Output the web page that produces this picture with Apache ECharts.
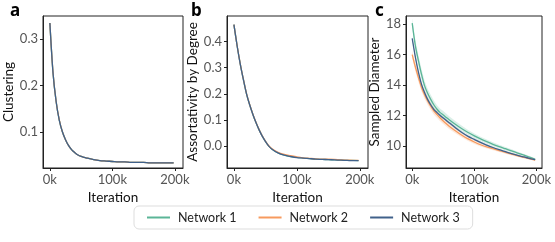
<!DOCTYPE html>
<html>
<head>
<meta charset="utf-8">
<script src="https://cdn.jsdelivr.net/npm/echarts@6/dist/echarts.min.js"></script>
<style>html,body{margin:0;padding:0;background:#fff}#c{width:555px;height:242px}</style>
</head>
<body>
<div id="c"></div>
<script>
// iteration (thousands)
const iters = [0,5,10,15,20,25,30,35,40,45,50,55,60,70,80,90,100,110,120,130,140,150,160,170,180,190,198];
const networks = ['Network 1','Network 2','Network 3'];
const xTicks = [0,100,200];

// panel a: clustering
const clu1 = [0.335,0.228,0.166,0.126,0.101,0.084,0.071,0.062,0.056,0.051,0.048,0.046,0.044,0.041,0.039,0.038,0.037,0.036,0.036,0.035,0.035,0.035,0.034,0.034,0.034,0.034,0.034];
const clu2 = [0.335,0.229,0.166,0.127,0.101,0.084,0.071,0.062,0.056,0.051,0.048,0.046,0.044,0.041,0.039,0.038,0.037,0.036,0.036,0.035,0.035,0.035,0.034,0.034,0.034,0.034,0.034];
const clu3 = [0.335,0.228,0.166,0.126,0.101,0.084,0.071,0.062,0.056,0.051,0.048,0.046,0.044,0.041,0.039,0.038,0.037,0.036,0.036,0.035,0.035,0.035,0.034,0.034,0.034,0.034,0.034];
const cluTicks = [0.1,0.2,0.3];

// panel b: assortativity by degree
const as1 = [0.465,0.385,0.315,0.255,0.200,0.158,0.122,0.090,0.062,0.038,0.018,0.001,-0.011,-0.026,-0.035,-0.040,-0.043,-0.046,-0.048,-0.050,-0.051,-0.052,-0.053,-0.054,-0.055,-0.055,-0.056];
const as2 = [0.465,0.386,0.316,0.256,0.201,0.159,0.123,0.091,0.063,0.039,0.019,0.002,-0.009,-0.024,-0.032,-0.037,-0.041,-0.045,-0.047,-0.049,-0.050,-0.050,-0.051,-0.053,-0.054,-0.055,-0.055];
const as3 = [0.465,0.385,0.315,0.255,0.200,0.158,0.122,0.090,0.062,0.038,0.018,0.001,-0.011,-0.026,-0.035,-0.040,-0.044,-0.046,-0.048,-0.050,-0.051,-0.052,-0.053,-0.054,-0.055,-0.056,-0.056];
const asTicks = [0.0,0.1,0.2,0.3,0.4];

// panel c: sampled diameter
const dia1 = [18.05,16.6,15.6,14.7,13.95,13.45,13.05,12.7,12.42,12.2,12.05,11.88,11.72,11.42,11.15,10.9,10.68,10.48,10.3,10.13,9.98,9.84,9.7,9.56,9.42,9.28,9.15];
const dia2 = [16.0,15.2,14.5,13.85,13.35,12.95,12.6,12.3,12.07,11.85,11.65,11.47,11.3,11.0,10.72,10.48,10.28,10.1,9.96,9.84,9.72,9.6,9.48,9.37,9.27,9.18,9.1];
const dia3 = [17.05,15.85,14.85,14.05,13.5,13.05,12.7,12.4,12.2,12.02,11.85,11.68,11.52,11.2,10.9,10.65,10.45,10.25,10.08,9.92,9.78,9.65,9.52,9.4,9.3,9.2,9.12];
// half-width of the shaded spread around each diameter curve
const spr1 = [0.3,0.35,0.35,0.35,0.32,0.3,0.3,0.28,0.27,0.26,0.25,0.24,0.23,0.21,0.19,0.17,0.16,0.15,0.14,0.13,0.12,0.11,0.1,0.09,0.08,0.07,0.06];
const spr2 = [0.25,0.28,0.28,0.27,0.26,0.25,0.24,0.23,0.22,0.21,0.2,0.19,0.18,0.16,0.15,0.14,0.13,0.12,0.11,0.1,0.09,0.08,0.08,0.07,0.07,0.06,0.06];
const spr3 = [0.1,0.12,0.12,0.12,0.11,0.1,0.1,0.1,0.09,0.09,0.08,0.08,0.08,0.07,0.07,0.06,0.06,0.06,0.05,0.05,0.05,0.05,0.04,0.04,0.04,0.04,0.04];
const diaTicks = [10,12,14,16,18];

const colors = ['#5bb597','#f79a5e','#40618a'];
const FONT = 'Lato';

function pairs(ys){ return iters.map((x,i)=>[x, ys[i]]); }

const grids = [
  {left:43, top:16, width:140, height:152},
  {left:227, top:16, width:141, height:152},
  {left:406, top:16, width:136, height:152}
].map(g=>Object.assign(g,{show:true, borderColor:'#222', borderWidth:1, containLabel:false}));

const xRanges = [[-11,213],[-11,213],[-10,209]];
const xAxis = xRanges.map((r,i)=>({
  type:'value', gridIndex:i, min:r[0], max:r[1],
  axisLine:{show:true, onZero:false, lineStyle:{color:'#222', width:1}},
  axisTick:{show:true, customValues:xTicks, length:3, lineStyle:{color:'#222'}},
  axisLabel:{customValues:xTicks, formatter:v=>v+'k', color:'#555', fontSize:13, fontFamily:FONT, margin:5},
  splitLine:{show:false},
  name:'Iteration', nameLocation:'middle', nameGap:14,
  nameTextStyle:{color:'#111', fontSize:13.5, fontFamily:FONT}
}));

const yDefs = [
  {min:0.023, max:0.35, ticks:cluTicks, name:'Clustering', gap:22, fmt:v=>v.toFixed(1)},
  {min:-0.084, max:0.498, ticks:asTicks, name:'Assortativity by Degree', gap:20, fmt:v=>v.toFixed(1)},
  {min:8.58, max:18.52, ticks:diaTicks, name:'Sampled Diameter', gap:18, fmt:v=>String(v)}
];
const yAxis = yDefs.map((d,i)=>({
  type:'value', gridIndex:i, min:d.min, max:d.max,
  axisLine:{show:true, onZero:false, lineStyle:{color:'#222', width:1}},
  axisTick:{show:true, customValues:d.ticks, length:3, lineStyle:{color:'#222'}},
  axisLabel:{customValues:d.ticks, formatter:d.fmt, color:'#555', fontSize:13, fontFamily:FONT, margin:5},
  splitLine:{show:false},
  name:d.name, nameLocation:'middle', nameGap:d.gap,
  nameTextStyle:{color:'#111', fontSize:13.5, fontFamily:FONT}
}));

const series = [];
const panelData = [[clu1,clu2,clu3],[as1,as2,as3],[dia1,dia2,dia3]];
const spreads = [spr1,spr2,spr3];

// shaded spread bands in panel c (polygons placed through the axis scales)
series.push({
  type:'custom', xAxisIndex:2, yAxisIndex:2, silent:true, z:1, clip:true,
  data:[[0,0],[1,0],[2,0]],
  renderItem:(params, api)=>{
    const k = params.dataIndex;
    const ys = panelData[2][k], sp = spreads[k];
    const up = iters.map((x,i)=>api.coord([x, ys[i]+sp[i]]));
    const lo = iters.map((x,i)=>api.coord([x, ys[i]-sp[i]])).reverse();
    return {type:'polygon', shape:{points:up.concat(lo)}, style:{fill:colors[k], opacity:0.22}};
  }
});

panelData.forEach((arrs,p)=>{
  arrs.forEach((ys,k)=>{
    series.push({
      name:networks[k], type:'line', xAxisIndex:p, yAxisIndex:p,
      data:pairs(ys), symbol:'none', smooth:0.3,
      lineStyle:{color:colors[k], width:1.3}, itemStyle:{color:colors[k]}, z:2+k
    });
  });
});

const letters = [['a',10],['b',191],['c',375]];
const chart = echarts.init(document.getElementById('c'), null, {renderer:'canvas'});
chart.setOption({
  animation:false,
  color:colors,
  grid:grids, xAxis, yAxis, series,
  legend:{
    data:networks, left:134, top:206,
    icon:'rect', itemWidth:23, itemHeight:2, itemGap:22,
    textStyle:{color:'#222', fontSize:12.5, fontFamily:FONT, padding:[0,0,0,3]},
    borderColor:'#ddd', borderWidth:1, borderRadius:5, padding:[5,13]
  },
  graphic: letters.map(l=>({type:'text', left:l[1], top:3, style:{text:l[0], font:'bold 17px "Noto Sans"', fill:'#000'}}))
});
</script>
</body>
</html>
